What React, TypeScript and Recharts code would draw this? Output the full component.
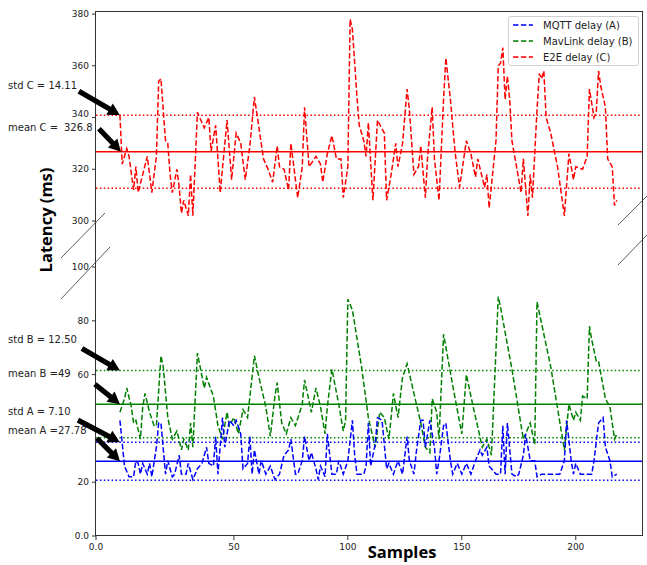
import { LineChart, Line, XAxis, YAxis, ReferenceLine, Legend } from 'recharts';

const SERIES_NAMES = ['MQTT delay (A)', 'MavLink delay (B)', 'E2E delay (C)'];
const SERIES_COLORS = ['#0000ff', '#008000', '#ff0000'];

// E2E delay (C), sample index / latency in ms
const redX = [0, 1, 3, 4, 6, 7, 8, 12, 14, 16, 17, 18, 20, 21, 22, 23, 25, 26, 27, 28, 30, 31, 32, 34, 37, 39, 40, 42, 44, 47, 49, 51, 53, 55, 57, 59, 61, 63, 65, 67, 69, 70, 72, 74, 75, 77, 78, 80, 81, 83, 86, 88, 89, 91, 93, 95, 97, 98, 100, 101, 102, 104, 105, 107, 108, 109, 111, 113, 116, 117, 119, 121, 122, 124, 126, 127, 129, 131, 132, 134, 135, 137, 138, 140, 142, 143, 145, 147, 149, 152, 154, 156, 157, 160, 161, 162, 165, 166, 167, 168, 169, 170, 171, 172, 174, 176, 177, 178, 179, 180, 181, 183, 184, 185, 186, 187, 189, 192, 195, 197, 199, 200, 203, 205, 206, 208, 209, 210, 211, 213, 214, 216, 217, 218];
const redY = [341, 322, 328, 325, 312, 321, 311, 325, 311, 325, 354, 355, 331, 330, 318, 311, 320, 313, 303, 308, 302, 318, 302, 342, 336, 340, 327, 337, 311, 339, 316, 334, 330, 316, 329, 348, 336, 324, 320, 315, 329, 321, 320, 312, 330, 316, 309, 321, 344, 321, 325, 322, 315, 326, 333, 324, 324, 309, 321, 378, 374, 348, 337, 331, 325, 338, 308, 339, 334, 308, 318, 330, 321, 330, 351, 343, 318, 321, 329, 309, 325, 344, 324, 308, 347, 363, 347, 327, 313, 331, 326, 317, 324, 313, 318, 305, 331, 360, 361, 367, 347, 356, 347, 331, 321, 311, 324, 313, 302, 318, 309, 343, 357, 355, 358, 340, 334, 321, 302, 326, 316, 321, 320, 325, 351, 340, 342, 358, 352, 344, 324, 321, 306, 308];

// MavLink delay (B)
const greenX = [0, 2, 3, 5, 6, 7, 9, 10, 11, 13, 15, 16, 18, 19, 21, 23, 25, 27, 28, 30, 31, 32, 34, 37, 38, 41, 43, 45, 47, 48, 50, 52, 54, 56, 59, 61, 64, 66, 68, 69, 71, 73, 75, 77, 80, 81, 84, 86, 88, 90, 91, 93, 96, 98, 99, 100, 102, 106, 109, 112, 114, 116, 118, 119, 120, 122, 124, 126, 129, 132, 134, 136, 137, 139, 140, 142, 146, 150, 152, 155, 159, 161, 163, 166, 167, 172, 177, 178, 180, 182, 183, 184, 189, 195, 197, 199, 200, 202, 203, 205, 206, 207, 209, 210, 213, 215, 217, 218];
const greenY = [46, 51, 55, 48, 42, 43, 36, 48, 53, 46, 41, 41, 67, 63, 44, 36, 39, 32, 36, 32, 42, 33, 68, 55, 59, 52, 41, 36, 46, 41, 44, 38, 47, 44, 67, 59, 48, 37, 52, 57, 42, 38, 44, 41, 49, 58, 46, 55, 48, 38, 48, 62, 49, 39, 43, 88, 84, 63, 44, 33, 46, 44, 36, 44, 53, 44, 59, 64, 53, 42, 33, 31, 51, 46, 36, 75, 56, 38, 60, 48, 33, 36, 30, 89, 85, 62, 36, 38, 42, 34, 87, 83, 63, 32, 49, 43, 46, 43, 52, 51, 78, 73, 65, 65, 51, 48, 36, 38];

// MQTT delay (A)
const blueX = [0, 2, 4, 6, 7, 8, 9, 10, 12, 13, 14, 16, 17, 18, 20, 21, 23, 24, 26, 27, 29, 30, 32, 34, 36, 38, 39, 41, 42, 43, 45, 46, 48, 50, 51, 53, 54, 56, 57, 58, 59, 61, 62, 64, 66, 68, 70, 72, 74, 75, 77, 78, 80, 81, 83, 84, 86, 87, 88, 90, 91, 93, 95, 96, 98, 100, 102, 103, 104, 107, 108, 109, 110, 112, 113, 115, 117, 118, 120, 122, 124, 126, 127, 129, 130, 132, 133, 134, 136, 138, 139, 140, 142, 143, 145, 146, 148, 150, 152, 154, 156, 158, 159, 161, 162, 165, 167, 168, 169, 170, 172, 174, 175, 177, 178, 180, 182, 183, 185, 187, 190, 193, 195, 196, 198, 199, 200, 202, 205, 207, 208, 210, 212, 213, 215, 216, 218];
const blueY = [43, 26, 22, 22, 28, 27, 23, 27, 23, 27, 22, 33, 42, 42, 23, 28, 22, 23, 30, 23, 23, 27, 21, 25, 27, 33, 27, 26, 37, 23, 44, 33, 43, 41, 43, 38, 25, 27, 37, 23, 32, 23, 28, 23, 26, 21, 23, 30, 32, 36, 23, 23, 28, 37, 28, 31, 25, 21, 26, 22, 38, 23, 23, 28, 23, 28, 43, 30, 23, 23, 26, 42, 26, 34, 44, 43, 25, 27, 23, 28, 23, 37, 28, 23, 31, 43, 43, 33, 43, 33, 23, 28, 41, 42, 28, 23, 27, 23, 27, 23, 28, 32, 30, 33, 26, 23, 23, 41, 23, 42, 23, 22, 23, 30, 38, 28, 28, 22, 23, 23, 23, 23, 28, 43, 28, 23, 27, 23, 23, 23, 28, 42, 44, 33, 28, 22, 23];

const MEAN_A = 27.78, STD_A = 7.1;
const MEAN_B = 49, STD_B = 12.5;
const MEAN_C = 326.8, STD_C = 14.11;

const X_TICKS = [-10.5, 50, 100, 150, 200];
const TOP_TICKS = [300, 320, 340, 360, 380];
const BOTTOM_TICKS = [0, 20, 60, 80, 100];

// layout
const W = 647, H = 565;
const LEFT = 96, RIGHT = 643;
const TOP_Y0 = 12, TOP_Y1 = 221;
const BOT_Y0 = 267, BOT_Y1 = 536;
const Y_AXIS_W = 40;
const X_DOMAIN: [number, number] = [-10.5, 229.5];
const TOP_DOMAIN: [number, number] = [300, 380.8];
const BOT_DOMAIN: [number, number] = [0, 100];

const tickFont = { fontSize: 9, fontFamily: 'DejaVu Sans', fill: '#222' };
const annFont = { fontSize: 10, fontFamily: 'DejaVu Sans', fill: '#222' };
const DASH = '5.5 2.4';
const DOT = '1.5 2.4';

const toPts = (xs: number[], ys: number[]) => xs.map((x, i) => ({ x, v: ys[i] }));
const redPts = toPts(redX, redY);
const greenPts = toPts(greenX, greenY);
const bluePts = toPts(blueX, blueY);

// pixel helpers for the arrow annotations only
const xPx = (v: number) => LEFT + ((v - X_DOMAIN[0]) / (X_DOMAIN[1] - X_DOMAIN[0])) * (RIGHT - LEFT);
const yTopPx = (v: number) => TOP_Y0 + ((TOP_DOMAIN[1] - v) / (TOP_DOMAIN[1] - TOP_DOMAIN[0])) * (TOP_Y1 - TOP_Y0);
const yBotPx = (v: number) => BOT_Y0 + ((BOT_DOMAIN[1] - v) / (BOT_DOMAIN[1] - BOT_DOMAIN[0])) * (BOT_Y1 - BOT_Y0);

// top-panel tick label; the 340 label sits a little above its tick in the original
function TopTick(props: any) {
    const { x, y, payload } = props;
    const lift = payload.value === 340 ? -3.5 : 0;
    return (
        <text x={x} y={y + lift} dy="0.355em" textAnchor="end" {...tickFont}>
            {payload.value}
        </text>
    );
}

function Arrow({ tip, off }: { tip: [number, number]; off: [number, number] }) {
    const [tx, ty] = tip;
    const bx = tx + off[0], by = ty + off[1];
    const dx = tx - bx, dy = ty - by;
    const len = Math.hypot(dx, dy);
    const ux = dx / len, uy = dy / len, nx = -uy, ny = ux;
    const hl = 12, hw = 6.5, sw = 2.6;
    const kx = tx - ux * hl, ky = ty - uy * hl;
    const pts = [
        [bx + nx * sw, by + ny * sw],
        [kx + nx * sw, ky + ny * sw],
        [kx + nx * hw, ky + ny * hw],
        [tx, ty],
        [kx - nx * hw, ky - ny * hw],
        [kx - nx * sw, ky - ny * sw],
        [bx - nx * sw, by - ny * sw],
    ];
    return <polygon points={pts.map(p => p.join(',')).join(' ')} fill="#000" />;
}

function LegendBox() {
    return (
        <div style={{ border: '1px solid #d0d0d0', borderRadius: 3, background: 'rgba(255,255,255,0.85)', fontFamily: 'DejaVu Sans', fontSize: 10, color: '#222', width: 129 }}>
            {SERIES_NAMES.map((n, i) => (
                <div key={n} style={{ display: 'flex', alignItems: 'center', height: 16 }}>
                    <svg width={30} height={10}>
                        <line x1={4} x2={24} y1={5} y2={5} stroke={SERIES_COLORS[i]} strokeWidth={1.5} strokeDasharray={DASH} />
                    </svg>
                    <span style={{ marginLeft: 4, whiteSpace: 'nowrap' }}>{n}</span>
                </div>
            ))}
        </div>
    );
}

export default function App() {
    const x0 = xPx(0);
    const arrows: { tip: [number, number]; off: [number, number] }[] = [
        { tip: [x0, yTopPx(MEAN_C + STD_C)], off: [-41, -24] },
        { tip: [x0 + 1, yTopPx(MEAN_C)], off: [-22, -23] },
        { tip: [x0, yBotPx(MEAN_B + STD_B)], off: [-38, -22] },
        { tip: [x0, yBotPx(MEAN_B)], off: [-25, -20] },
        { tip: [x0, yBotPx(MEAN_A + STD_A)], off: [-42, -22] },
        { tip: [x0, yBotPx(MEAN_A)], off: [-23, -23] },
    ];

    return (
        <div style={{ position: 'absolute', left: 0, top: 0, width: W, height: H, background: '#fff' }}>
            {/* lower panel: MQTT + MavLink */}
            <div style={{ position: 'absolute', left: 0, top: 0 }}>
                <LineChart width={W} height={H} margin={{ top: BOT_Y0, right: W - RIGHT, bottom: 0, left: LEFT - Y_AXIS_W }}>
                    <XAxis
                        type="number"
                        dataKey="x"
                        domain={X_DOMAIN}
                        allowDataOverflow
                        ticks={X_TICKS}
                        interval={0}
                        tickFormatter={(v: number) => (v < 0 ? '0.0' : String(v))}
                        tick={tickFont}
                        tickSize={4}
                        tickMargin={4}
                        height={H - BOT_Y1}
                        axisLine={false}
                        tickLine={{ stroke: '#333' }}
                    />
                    <YAxis
                        type="number"
                        domain={BOT_DOMAIN}
                        allowDataOverflow
                        ticks={BOTTOM_TICKS}
                        interval={0}
                        tickFormatter={(v: number) => (v === 0 ? '0.0' : String(v))}
                        tick={tickFont}
                        tickSize={4}
                        tickMargin={3}
                        width={Y_AXIS_W}
                        axisLine={false}
                        tickLine={{ stroke: '#333' }}
                    />
                    <ReferenceLine y={MEAN_B} stroke={SERIES_COLORS[1]} strokeWidth={1.5} />
                    <ReferenceLine y={MEAN_B + STD_B} stroke={SERIES_COLORS[1]} strokeWidth={1.5} strokeDasharray={DOT} />
                    <ReferenceLine y={MEAN_B - STD_B} stroke={SERIES_COLORS[1]} strokeWidth={1.5} strokeDasharray={DOT} />
                    <ReferenceLine y={MEAN_A} stroke={SERIES_COLORS[0]} strokeWidth={1.5} />
                    <ReferenceLine y={MEAN_A + STD_A} stroke={SERIES_COLORS[0]} strokeWidth={1.5} strokeDasharray={DOT} />
                    <ReferenceLine y={MEAN_A - STD_A} stroke={SERIES_COLORS[0]} strokeWidth={1.5} strokeDasharray={DOT} />
                    <Line data={greenPts} dataKey="v" type="linear" stroke={SERIES_COLORS[1]} strokeWidth={1.5} strokeDasharray={DASH} dot={false} isAnimationActive={false} />
                    <Line data={bluePts} dataKey="v" type="linear" stroke={SERIES_COLORS[0]} strokeWidth={1.5} strokeDasharray={DASH} dot={false} isAnimationActive={false} />
                </LineChart>
            </div>

            {/* upper panel: E2E */}
            <div style={{ position: 'absolute', left: 0, top: 0 }}>
                <LineChart width={W} height={240} margin={{ top: TOP_Y0, right: W - RIGHT, bottom: 240 - TOP_Y1, left: LEFT - Y_AXIS_W }}>
                    <XAxis type="number" dataKey="x" domain={X_DOMAIN} allowDataOverflow hide />
                    <YAxis
                        type="number"
                        domain={TOP_DOMAIN}
                        allowDataOverflow
                        ticks={TOP_TICKS}
                        interval={0}
                        tick={<TopTick />}
                        tickSize={4}
                        tickMargin={3}
                        width={Y_AXIS_W}
                        axisLine={false}
                        tickLine={{ stroke: '#333' }}
                    />
                    <ReferenceLine y={MEAN_C} stroke={SERIES_COLORS[2]} strokeWidth={1.5} />
                    <ReferenceLine y={MEAN_C + STD_C} stroke={SERIES_COLORS[2]} strokeWidth={1.5} strokeDasharray={DOT} />
                    <ReferenceLine y={MEAN_C - STD_C} stroke={SERIES_COLORS[2]} strokeWidth={1.5} strokeDasharray={DOT} />
                    <Line data={redPts} dataKey="v" type="linear" stroke={SERIES_COLORS[2]} strokeWidth={1.5} strokeDasharray={DASH} dot={false} isAnimationActive={false} />
                    <Legend
                        layout="vertical"
                        verticalAlign="middle"
                        align="center"
                        wrapperStyle={{ position: 'absolute', top: 16, left: 508, width: 131 }}
                        content={() => <LegendBox />}
                    />
                </LineChart>
            </div>

            {/* frame, axis break marks, annotations */}
            <svg width={W} height={H} style={{ position: 'absolute', left: 0, top: 0, pointerEvents: 'none' }}>
                <rect x={LEFT - 0.5} y={TOP_Y0 - 0.5} width={RIGHT - LEFT} height={BOT_Y1 - TOP_Y0} fill="none" stroke="#333" strokeWidth={1} />
                <g stroke="#333" strokeWidth={0.8}>
                    <line x1={61} y1={258} x2={105} y2={213} />
                    <line x1={61} y1={299} x2={110} y2={247} />
                    <line x1={618} y1={225} x2={647} y2={196} />
                    <line x1={618} y1={265} x2={647} y2={235} />
                </g>
                {arrows.map((a, i) => <Arrow key={i} tip={a.tip} off={a.off} />)}
                <g {...annFont} dominantBaseline="central">
                    <text x={8} y={85}>{`std C = ${STD_C.toFixed(2)}`}</text>
                    <text x={8} y={127}>mean C =</text>
                    <text x={64} y={127}>{MEAN_C}</text>
                    <text x={8} y={339}>{`std B = ${STD_B.toFixed(2)}`}</text>
                    <text x={8} y={373}>{`mean B =${MEAN_B}`}</text>
                    <text x={8} y={411}>{`std A = ${STD_A.toFixed(2)}`}</text>
                    <text x={8} y={430}>{`mean A =${MEAN_A}`}</text>
                </g>
                <text x={402} y={558} textAnchor="middle" fontFamily="Open Sans" fontWeight="bold" fontSize={16.5} fill="#000">Samples</text>
                <text x={45} y={220} transform="rotate(-90 45 220)" textAnchor="middle" dominantBaseline="central" fontFamily="Open Sans" fontWeight="bold" fontSize={16.5} fill="#000">Latency (ms)</text>
            </svg>
        </div>
    );
}
